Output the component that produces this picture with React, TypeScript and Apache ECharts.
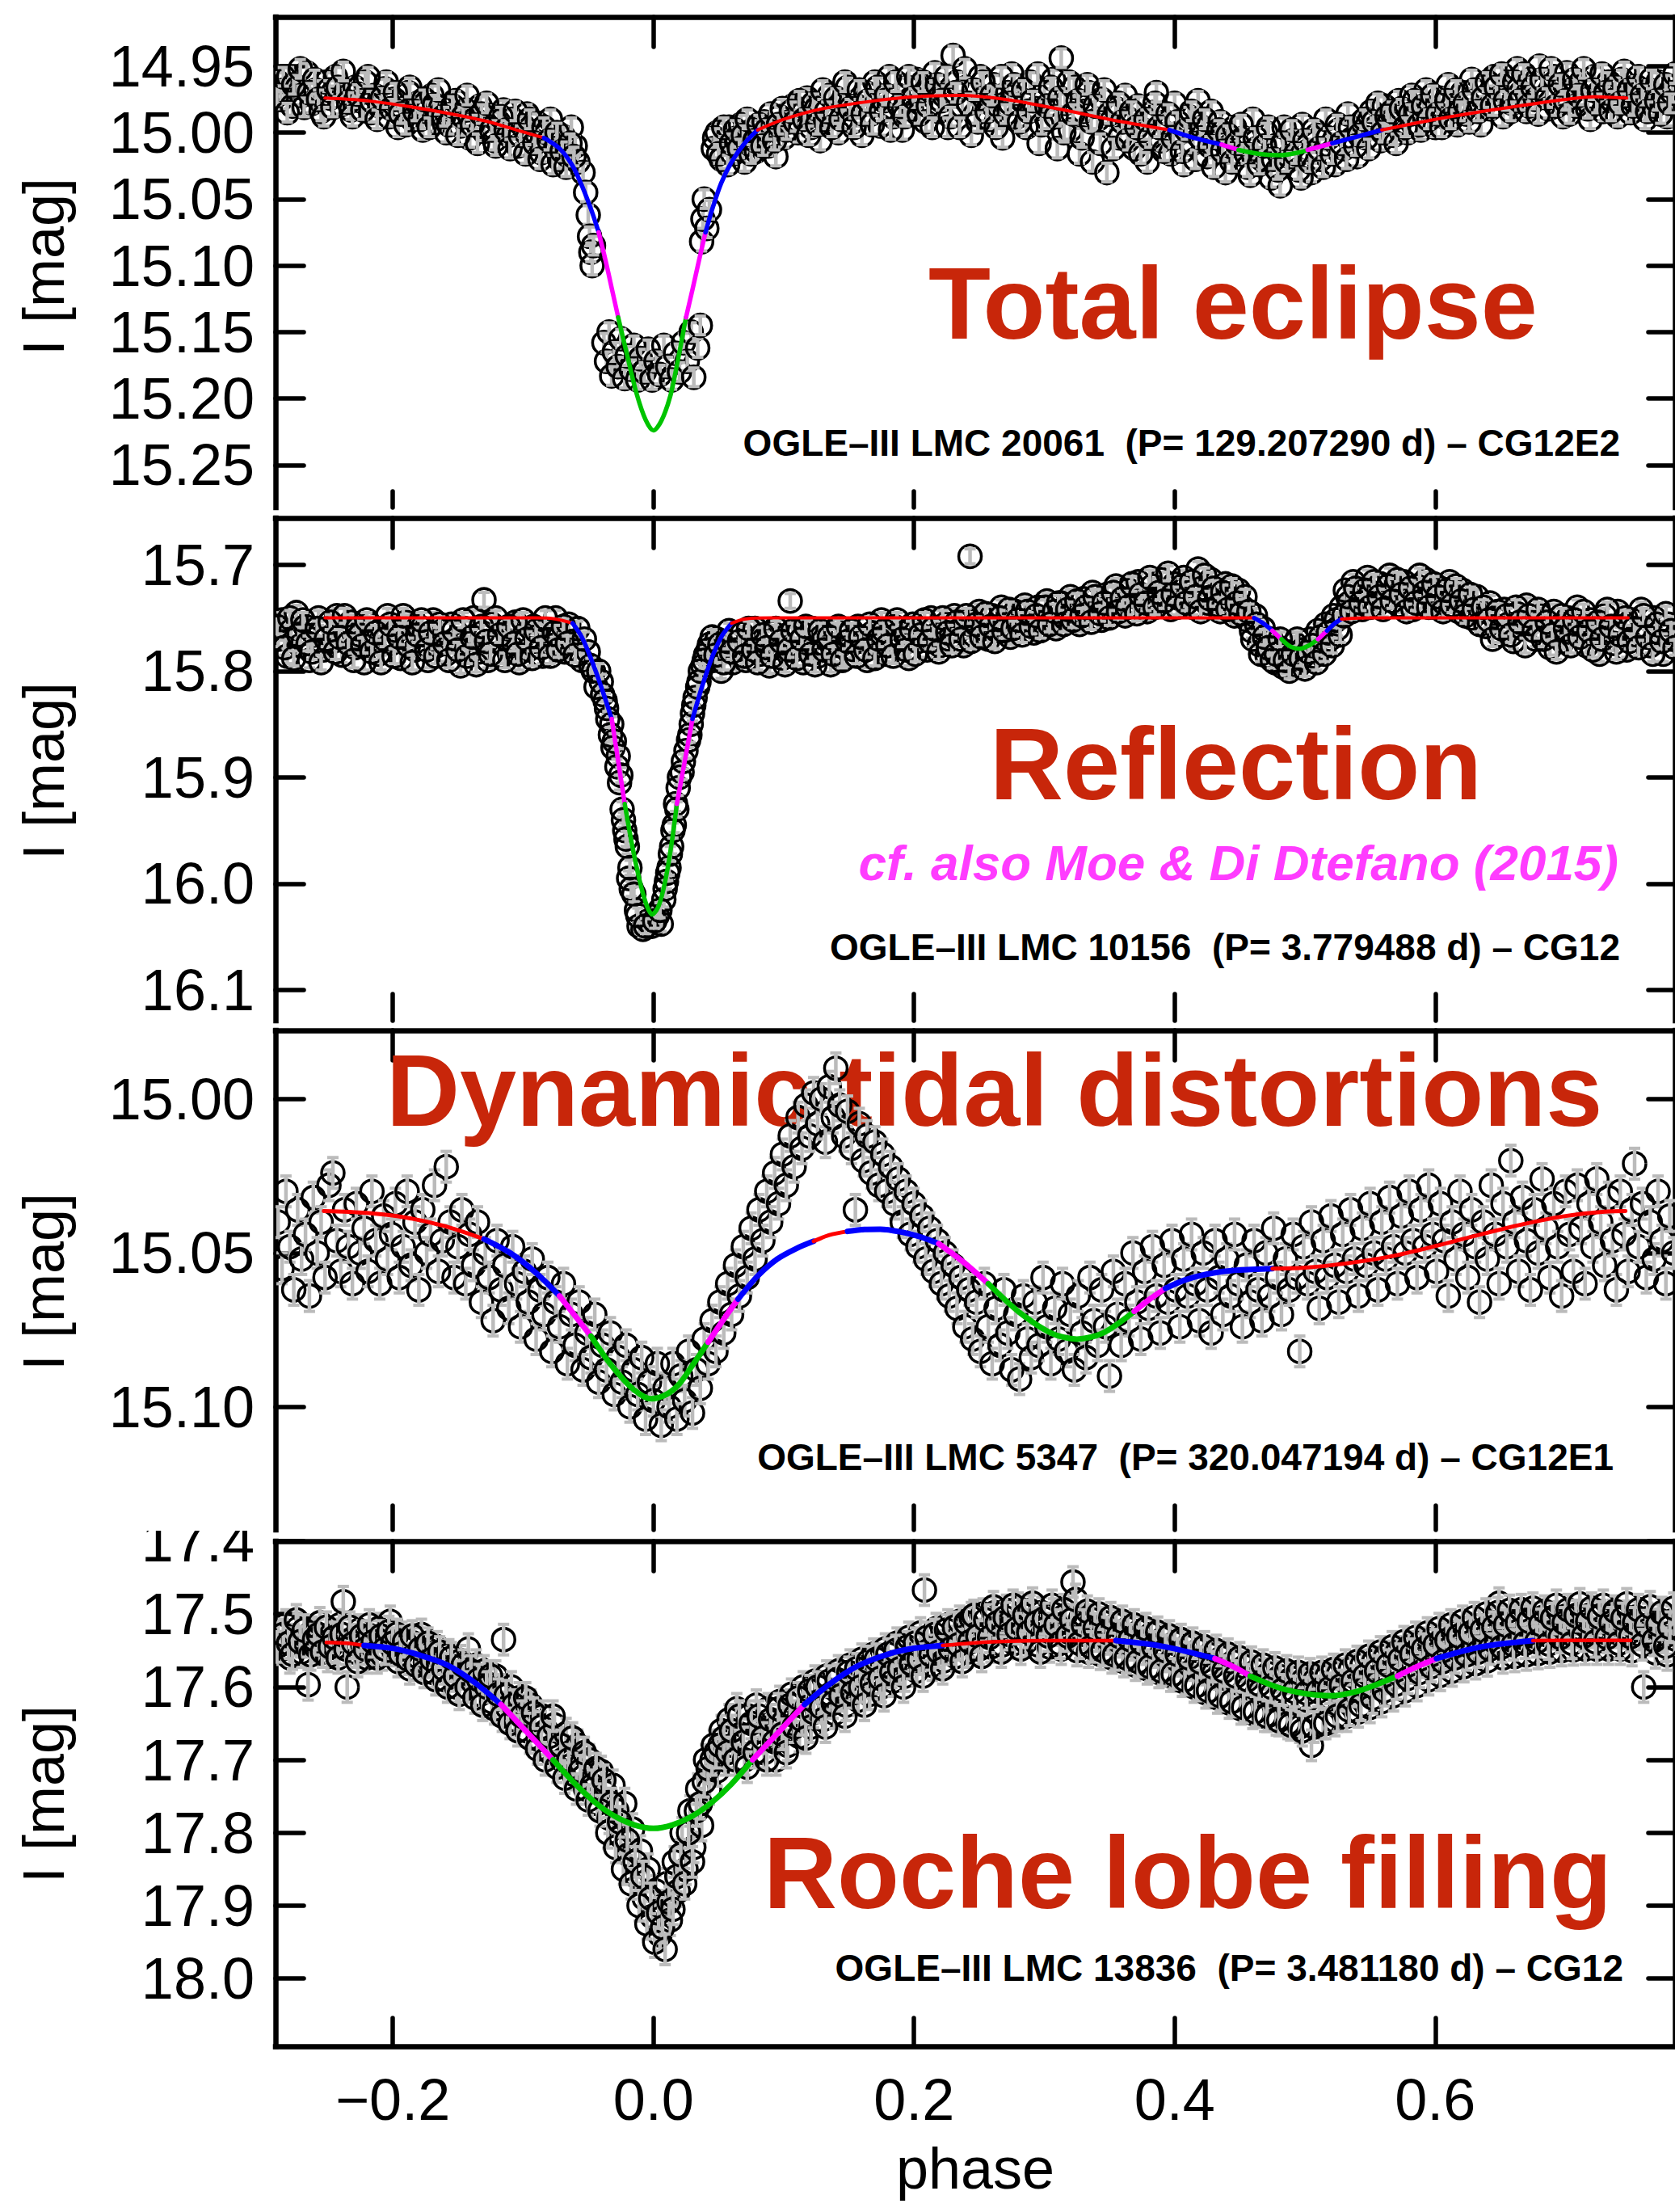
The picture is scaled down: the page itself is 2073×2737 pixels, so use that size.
import React, { useEffect, useRef } from 'react';
import * as echarts from 'echarts';

// ---------- axes ----------
const X_RANGE = [-0.29, 0.784];
const X_TICKS = [-0.2, 0.0, 0.2, 0.4, 0.6];
const Y1_RANGE = [14.913, 15.282];
const Y1_TICKS = [14.95, 15.0, 15.05, 15.1, 15.15, 15.2, 15.25];
const Y2_RANGE = [15.656, 16.129];
const Y2_TICKS = [15.7, 15.8, 15.9, 16.0, 16.1];
const Y3_RANGE = [14.9777, 15.14];
const Y3_TICKS = [15.0, 15.05, 15.1];
const Y4_RANGE = [17.4, 18.093];
const Y4_TICKS = [17.4, 17.5, 17.6, 17.7, 17.8, 17.9, 18.0];

// ---------- texts ----------
const TITLES = ['Total eclipse', 'Reflection', 'Dynamic tidal distortions', 'Roche lobe filling'];
const INFO = [
  'OGLE\u2013III LMC 20061  (P= 129.207290 d) \u2013 CG12E2',
  'OGLE\u2013III LMC 10156  (P= 3.779488 d) \u2013 CG12',
  'OGLE\u2013III LMC 5347  (P= 320.047194 d) \u2013 CG12E1',
  'OGLE\u2013III LMC 13836  (P= 3.481180 d) \u2013 CG12',
];
const NOTE = 'cf. also Moe & Di Dtefano (2015)';

// ---------- observations [phase, I mag] ----------
const P1_ERR = 0.007;
const P1_OBS = [
  [-0.288,14.962],[-0.286,14.975],[-0.283,14.968],[-0.280,14.958],[-0.277,14.980],[-0.273,14.966],[-0.270,14.972],[-0.266,14.955],
  [-0.262,14.978],[-0.259,14.968],[-0.255,14.984],[-0.251,14.962],[-0.248,14.974],[-0.244,14.958],[-0.240,14.979],[-0.236,14.970],
  [-0.232,14.983],[-0.229,14.966],[-0.225,14.976],[-0.221,14.962],[-0.217,14.985],[-0.214,14.972],[-0.210,14.980],[-0.206,14.967],
  [-0.203,14.988],[-0.199,14.975],[-0.196,14.996],[-0.192,14.982],[-0.188,14.970],[-0.185,14.990],[-0.181,14.978],[-0.177,14.998],
  [-0.174,14.984],[-0.170,14.972],[-0.166,14.992],[-0.163,14.981],[-0.159,15.000],[-0.155,14.986],[-0.152,14.976],[-0.148,14.995],
  [-0.144,14.983],[-0.141,15.004],[-0.137,14.990],[-0.133,14.980],[-0.130,14.999],[-0.126,14.987],[-0.122,15.006],[-0.119,14.992],
  [-0.115,14.983],[-0.111,15.002],[-0.108,14.990],[-0.104,15.010],[-0.100,14.995],[-0.097,14.986],[-0.093,15.005],[-0.089,14.993],
  [-0.086,15.015],[-0.082,15.000],[-0.079,14.990],[-0.075,15.012],[-0.072,15.020],[-0.069,15.003],[-0.066,15.017],[-0.063,14.996],
  [-0.060,15.010],[-0.058,15.022],[-0.054,15.030],[-0.052,15.045],[-0.050,15.062],[-0.049,15.078],[-0.048,15.090],[-0.047,15.100],
  [-0.046,15.085],
  [-0.038,15.158],[-0.036,15.172],[-0.034,15.150],[-0.032,15.183],[-0.030,15.165],[-0.027,15.176],[-0.025,15.155],[-0.022,15.185],
  [-0.020,15.168],[-0.017,15.178],[-0.015,15.160],[-0.012,15.186],[-0.010,15.170],[-0.007,15.180],[-0.004,15.163],[-0.001,15.186],
  [0.002,15.172],[0.005,15.182],[0.008,15.160],[0.011,15.176],[0.014,15.186],[0.017,15.166],[0.020,15.180],[0.023,15.158],
  [0.026,15.172],[0.029,15.150],[0.031,15.184],[0.034,15.162],[0.036,15.145],
  [0.037,15.082],[0.038,15.065],[0.039,15.050],[0.041,15.072],[0.043,15.058],
  [0.046,15.012],[0.049,15.000],[0.052,15.020],[0.055,15.006],[0.058,14.996],[0.061,15.016],[0.064,15.004],[0.067,14.994],
  [0.070,15.022],[0.073,15.008],[0.076,14.998],[0.079,15.014],[0.082,15.002],[0.085,14.992],[0.088,15.010],[0.091,14.996],
  [0.094,15.018],[0.097,14.988],[0.100,15.004],[0.104,14.992],[0.107,14.980],[0.111,15.000],[0.114,14.986],[0.118,14.974],
  [0.121,14.996],[0.125,14.982],[0.128,15.006],[0.132,14.990],[0.135,14.972],[0.139,14.986],[0.142,15.000],[0.146,14.978],
  [0.149,14.966],[0.153,14.992],[0.156,14.980],[0.160,15.002],[0.163,14.970],[0.167,14.986],[0.170,14.962],[0.174,14.995],
  [0.177,14.976],[0.181,14.958],[0.184,14.988],[0.188,14.972],[0.191,14.998],[0.195,14.966],[0.198,14.982],
  [0.202,14.960],[0.205,14.978],[0.209,14.992],[0.212,14.968],[0.216,14.955],[0.219,14.984],[0.223,14.972],[0.226,14.996],
  [0.230,14.942],[0.233,14.962],[0.237,14.980],[0.240,14.966],[0.244,15.002],[0.247,14.986],[0.251,14.958],[0.254,14.974],
  [0.258,14.990],[0.261,14.964],[0.265,14.980],[0.268,15.004],[0.272,14.970],[0.275,14.956],[0.279,14.988],[0.282,14.975],
  [0.286,14.996],[0.289,14.962],[0.293,14.982],[0.296,15.008],[0.300,14.970],[0.303,14.990],[0.307,14.960],[0.310,15.012],
  [0.313,14.944],[0.316,14.978],[0.320,14.998],[0.323,14.966],[0.327,15.016],[0.330,14.984],[0.334,14.970],[0.337,15.022],
  [0.341,14.990],[0.344,14.975],[0.348,15.030],[0.351,14.996],[0.355,14.982],
  [0.358,15.004],[0.362,14.972],[0.365,14.990],[0.369,15.012],[0.372,14.980],[0.376,14.998],[0.379,15.022],[0.383,14.985],
  [0.386,14.970],[0.390,15.006],[0.393,14.992],[0.397,15.016],[0.400,14.978],[0.404,15.000],[0.407,15.024],[0.411,14.988],
  [0.414,15.008],[0.418,14.976],[0.421,14.996],[0.425,15.018],[0.428,14.984],[0.432,15.004],[0.435,14.992],[0.439,15.030],
  [0.442,15.010],[0.446,14.996],[0.449,15.016],[0.453,15.004],[0.456,15.026],[0.460,14.990],[0.463,15.012],[0.467,15.020],
  [0.470,15.000],[0.474,15.034],[0.477,15.010],[0.481,15.040],[0.484,14.996],[0.488,15.018],[0.491,15.006],[0.495,15.028],
  [0.498,14.994],[0.502,15.014],[0.505,15.030],[0.509,15.002],[0.512,15.020],[0.516,14.990],[0.519,15.010],[0.523,15.024],
  [0.526,14.998],[0.530,15.012],[0.533,14.986],[0.537,15.004],[0.540,15.018],[0.544,14.992],
  [0.547,15.004],[0.551,14.984],[0.554,14.996],[0.558,15.006],[0.561,14.980],[0.565,14.992],[0.568,15.002],[0.572,14.976],
  [0.575,14.988],[0.579,15.000],[0.582,14.972],[0.586,14.984],[0.589,14.998],[0.593,14.968],[0.596,14.982],[0.600,14.996],
  [0.603,14.974],[0.607,14.988],[0.610,14.964],[0.614,14.980],[0.617,14.994],[0.621,14.970],[0.624,14.986],[0.628,14.960],
  [0.631,14.976],[0.635,14.994],[0.638,14.966],[0.642,14.982],
  [0.645,14.958],[0.649,14.974],[0.652,14.988],[0.656,14.962],[0.659,14.978],[0.663,14.952],[0.666,14.970],[0.670,14.984],
  [0.673,14.960],[0.677,14.975],[0.680,14.950],[0.684,14.966],[0.687,14.982],[0.691,14.958],[0.694,14.972],[0.698,14.988],
  [0.701,14.955],[0.705,14.968],[0.708,14.980],[0.712,14.962],[0.715,14.975],[0.719,14.990],[0.722,14.958],[0.726,14.970],
  [0.729,14.984],[0.733,14.962],[0.736,14.976],[0.740,14.988],[0.743,14.960],[0.747,14.972],[0.750,14.985],[0.754,14.965],
  [0.757,14.978],[0.761,14.990],[0.764,14.968],[0.768,14.980],[0.771,14.962],[0.775,14.975],[0.778,14.988],[0.782,14.970],
];
const P1_OBS_B = [
  [-0.289,14.972],[-0.284,14.958],[-0.281,14.985],[-0.276,14.964],[-0.271,14.952],[-0.268,14.981],[-0.264,14.970],[-0.260,14.960],
  [-0.257,14.975],[-0.253,14.988],[-0.249,14.968],[-0.246,14.981],[-0.242,14.966],[-0.238,14.954],[-0.234,14.977],[-0.231,14.988],
  [-0.227,14.971],[-0.223,14.983],[-0.219,14.958],[-0.216,14.976],[-0.212,14.990],[-0.208,14.974],[-0.205,14.962],[-0.201,14.982],
  [-0.198,14.970],[-0.194,14.986],[-0.190,14.994],[-0.187,14.966],[-0.183,14.984],[-0.179,14.990],[-0.176,14.975],[-0.172,14.996],
  [-0.168,14.979],[-0.165,14.968],[-0.161,14.988],[-0.157,14.994],[-0.154,14.980],[-0.150,15.002],[-0.146,14.988],[-0.143,14.972],
  [-0.139,14.994],[-0.135,15.008],[-0.132,14.986],[-0.128,14.978],[-0.124,14.998],[-0.121,15.010],[-0.117,14.988],[-0.113,14.998],
  [-0.110,15.012],[-0.106,14.984],[-0.102,15.002],[-0.098,15.016],[-0.095,14.990],[-0.091,15.008],[-0.087,15.020],[-0.084,14.996],
  [-0.080,15.006],[-0.077,15.024],[-0.074,15.000],[-0.070,15.014],[-0.067,15.026],[-0.064,15.008],[-0.061,15.018],
  [0.047,15.004],[0.050,15.016],[0.054,14.996],[0.057,15.024],[0.060,15.008],[0.063,14.998],[0.066,15.012],[0.069,15.002],
  [0.072,14.990],[0.075,15.016],[0.078,15.006],[0.081,14.994],[0.084,15.010],[0.087,14.998],[0.090,14.986],[0.093,15.006],
  [0.096,14.994],[0.099,14.982],[0.102,14.998],[0.106,14.984],[0.109,14.992],[0.112,14.976],[0.116,14.990],[0.119,15.002],
  [0.123,14.978],[0.126,14.994],[0.130,14.968],[0.133,14.984],[0.137,14.996],[0.140,14.974],[0.144,14.990],[0.147,14.962],
  [0.151,14.982],[0.154,14.996],[0.158,14.968],[0.161,14.986],[0.165,14.976],[0.168,14.994],[0.172,14.966],[0.175,14.984],
  [0.179,14.972],[0.182,14.998],[0.186,14.962],[0.189,14.980],[0.193,14.988],[0.196,14.958],
  [0.200,14.974],[0.204,14.986],[0.207,14.962],[0.211,14.980],[0.214,14.996],[0.218,14.964],[0.221,14.976],[0.225,14.958],
  [0.228,14.988],[0.232,14.970],[0.235,14.996],[0.239,14.952],[0.242,14.978],[0.246,14.968],[0.249,14.992],[0.253,14.962],
  [0.256,14.984],[0.260,14.972],[0.263,14.996],[0.267,14.958],[0.270,14.986],[0.274,14.978],[0.277,14.964],[0.281,14.992],
  [0.284,14.968],[0.288,14.984],[0.291,14.976],[0.295,14.956],[0.298,14.994],[0.302,14.980],[0.305,14.966],[0.309,14.988],
  [0.312,14.974],[0.315,15.000],[0.319,14.962],[0.322,14.986],[0.326,14.976],[0.329,15.004],[0.333,14.964],[0.336,14.992],
  [0.339,14.980],[0.343,15.008],[0.346,14.968],[0.350,14.986],[0.353,15.012],[0.357,14.978],
  [0.360,14.992],[0.364,15.006],[0.367,14.984],[0.371,14.996],[0.374,15.016],[0.378,14.990],[0.381,15.004],[0.385,14.978],
  [0.388,14.996],[0.392,15.014],[0.395,14.986],[0.399,15.004],[0.402,14.992],[0.406,15.014],[0.409,14.998],[0.413,14.984],
  [0.416,15.020],[0.420,15.004],[0.423,14.990],[0.427,15.010],[0.430,15.026],[0.434,14.998],[0.437,15.014],[0.441,15.002],
  [0.444,15.022],[0.448,15.008],[0.451,14.994],[0.455,15.016],[0.458,15.032],[0.462,15.004],[0.465,15.024],[0.469,15.010],
  [0.472,14.996],[0.476,15.020],[0.479,15.028],[0.483,15.008],[0.486,15.022],[0.490,14.998],[0.493,15.016],[0.497,15.034],
  [0.500,15.006],[0.504,15.022],[0.507,14.998],[0.511,15.012],[0.514,15.026],[0.518,15.004],[0.521,15.016],[0.525,14.994],
  [0.528,15.008],[0.532,15.020],[0.535,14.996],[0.539,15.010],[0.542,15.002],
  [0.546,14.990],[0.549,15.012],[0.553,14.992],[0.556,14.978],[0.560,15.000],[0.563,14.988],[0.567,14.984],[0.570,15.008],
  [0.574,14.982],[0.577,14.996],[0.581,14.986],[0.584,14.976],[0.588,14.994],[0.591,14.980],[0.595,14.990],[0.598,14.972],
  [0.602,14.986],[0.605,14.996],[0.609,14.976],[0.612,14.990],[0.616,14.968],[0.619,14.984],[0.623,14.978],[0.626,14.992],
  [0.630,14.968],[0.633,14.984],[0.637,14.974],[0.640,14.962],[0.644,14.980],[0.647,14.966],[0.651,14.956],[0.654,14.976],
  [0.658,14.984],[0.661,14.962],[0.665,14.976],[0.668,14.956],[0.672,14.980],[0.675,14.966],[0.679,14.986],[0.682,14.960],
  [0.686,14.974],[0.689,14.952],[0.693,14.980],[0.696,14.964],[0.700,14.976],[0.703,14.986],[0.707,14.960],[0.710,14.972],
  [0.714,14.952],[0.717,14.982],[0.721,14.968],[0.724,14.978],[0.728,14.956],[0.731,14.970],[0.735,14.984],[0.738,14.966],
  [0.742,14.978],[0.745,14.954],[0.749,14.968],[0.752,14.980],[0.756,14.958],[0.759,14.972],[0.763,14.984],[0.766,14.960],
  [0.770,14.976],[0.773,14.986],[0.777,14.964],[0.780,14.978],[0.784,14.956],
];

const P2_ERR = 0.007;
const P2_OBS = [
  [-0.288,15.770],[-0.285,15.752],[-0.281,15.786],[-0.278,15.762],[-0.274,15.745],[-0.271,15.776],[-0.267,15.758],[-0.264,15.790],
  [-0.260,15.766],[-0.257,15.750],[-0.253,15.780],[-0.250,15.760],[-0.246,15.772],[-0.243,15.748],[-0.239,15.785],[-0.236,15.764],
  [-0.232,15.754],[-0.229,15.778],[-0.225,15.766],[-0.222,15.792],[-0.218,15.756],[-0.215,15.770],[-0.211,15.784],[-0.208,15.760],
  [-0.204,15.748],[-0.201,15.774],[-0.197,15.762],[-0.194,15.788],[-0.190,15.754],[-0.187,15.770],[-0.183,15.780],[-0.180,15.758],
  [-0.176,15.766],[-0.173,15.790],[-0.169,15.752],[-0.166,15.776],[-0.162,15.762],[-0.159,15.784],[-0.155,15.756],[-0.152,15.770],
  [-0.148,15.795],[-0.145,15.760],[-0.141,15.774],[-0.138,15.750],[-0.134,15.782],[-0.131,15.764],[-0.130,15.733],[-0.127,15.790],
  [-0.124,15.756],[-0.120,15.772],[-0.117,15.786],[-0.113,15.760],[-0.110,15.776],[-0.106,15.754],[-0.103,15.792],[-0.099,15.766],
  [-0.096,15.780],[-0.092,15.758],[-0.089,15.772],[-0.085,15.786],[-0.082,15.762],[-0.078,15.776],[-0.075,15.750],[-0.072,15.768],
  [-0.068,15.782],[-0.065,15.756],
  [-0.062,15.772],[-0.058,15.760],[-0.055,15.790],[-0.050,15.782],[-0.046,15.800],[-0.044,15.815],[-0.040,15.810],[-0.037,15.828],
  [-0.035,15.845],[-0.033,15.860],[-0.031,15.872],[-0.028,15.890],[-0.026,15.905],[-0.024,15.930],[-0.022,15.950],[-0.020,15.965],
  [-0.019,15.995],[-0.017,16.005],[-0.013,16.025],[-0.011,16.040],[-0.008,16.043],[-0.004,16.035],[-0.001,16.040],[0.003,16.030],
  [0.006,16.038],[0.008,16.015],[0.010,15.998],[0.012,15.985],[0.014,15.965],[0.016,15.945],[0.017,15.925],[0.019,15.910],
  [0.022,15.895],[0.025,15.875],[0.028,15.860],[0.030,15.840],[0.032,15.825],[0.035,15.810],[0.038,15.795],[0.040,15.785],
  [0.043,15.775],[0.046,15.790],[0.049,15.770],[0.052,15.800],[0.055,15.780],[0.058,15.762],[0.061,15.792],
  [0.064,15.780],[0.068,15.765],[0.071,15.790],[0.075,15.772],[0.078,15.760],[0.082,15.784],[0.085,15.770],[0.089,15.795],
  [0.092,15.764],[0.096,15.778],[0.099,15.788],[0.103,15.766],[0.105,15.734],[0.108,15.780],[0.112,15.762],[0.115,15.792],
  [0.119,15.774],[0.122,15.760],[0.126,15.786],[0.129,15.768],[0.133,15.778],[0.136,15.794],[0.140,15.762],[0.143,15.776],
  [0.147,15.788],[0.150,15.766],[0.154,15.780],[0.157,15.758],[0.161,15.772],[0.164,15.790],[0.168,15.764],[0.171,15.776],
  [0.175,15.752],[0.178,15.784],[0.182,15.768],[0.185,15.758],[0.189,15.778],[0.192,15.764],[0.196,15.788],[0.199,15.756],
  [0.203,15.772],[0.206,15.760],[0.210,15.780],[0.213,15.750],[0.217,15.766],[0.220,15.776],[0.224,15.756],[0.227,15.770],
  [0.231,15.748],[0.234,15.762],[0.238,15.776],[0.241,15.752],[0.243,15.692],[0.246,15.766],[0.250,15.744],[0.253,15.760],
  [0.257,15.770],[0.260,15.748],[0.264,15.762],[0.267,15.740],[0.271,15.756],[0.274,15.768],[0.278,15.744],[0.281,15.758],
  [0.285,15.738],[0.288,15.752],[0.292,15.764],[0.295,15.740],[0.299,15.754],[0.302,15.734],[0.306,15.748],[0.309,15.760],
  [0.313,15.736],[0.316,15.750],[0.320,15.730],[0.323,15.744],[0.327,15.756],[0.330,15.732],[0.334,15.746],[0.337,15.726],
  [0.341,15.740],[0.344,15.752],[0.348,15.728],[0.351,15.742],[0.355,15.720],[0.358,15.736],[0.362,15.748],[0.365,15.724],
  [0.369,15.738],[0.372,15.716],[0.376,15.732],[0.379,15.744],[0.383,15.720],[0.386,15.734],[0.390,15.714],[0.393,15.728],
  [0.397,15.742],[0.400,15.718],[0.404,15.732],[0.407,15.712],[0.411,15.726],[0.414,15.740],[0.418,15.704],[0.421,15.722],
  [0.425,15.736],[0.428,15.714],[0.432,15.728],[0.435,15.744],[0.439,15.718],[0.442,15.732],[0.446,15.748],[0.449,15.724],
  [0.452,15.740],[0.456,15.752],
  [0.459,15.762],[0.462,15.748],[0.465,15.775],[0.468,15.760],[0.471,15.786],[0.474,15.770],[0.477,15.792],[0.480,15.778],
  [0.483,15.796],[0.486,15.782],[0.489,15.790],[0.492,15.774],[0.495,15.795],[0.498,15.780],[0.501,15.790],[0.504,15.770],
  [0.507,15.786],[0.510,15.762],[0.513,15.778],[0.516,15.756],[0.519,15.770],[0.522,15.748],[0.525,15.760],[0.528,15.740],
  [0.531,15.724],[0.534,15.736],[0.537,15.716],[0.541,15.730],[0.544,15.742],[0.548,15.712],[0.551,15.726],[0.555,15.738],
  [0.558,15.718],[0.562,15.732],[0.565,15.710],[0.569,15.724],[0.572,15.738],[0.576,15.716],[0.579,15.730],[0.583,15.742],
  [0.586,15.720],[0.590,15.734],[0.593,15.714],[0.597,15.728],[0.600,15.740],[0.604,15.722],[0.607,15.736],[0.611,15.716],
  [0.614,15.730],[0.618,15.744],[0.621,15.724],[0.625,15.738],[0.628,15.750],[0.632,15.730],
  [0.635,15.744],[0.639,15.758],[0.642,15.736],[0.646,15.750],[0.649,15.766],[0.653,15.742],[0.656,15.756],[0.660,15.772],
  [0.663,15.746],[0.667,15.760],[0.670,15.738],[0.674,15.754],[0.677,15.770],[0.681,15.748],[0.684,15.762],[0.688,15.778],
  [0.691,15.744],[0.695,15.758],[0.698,15.772],[0.702,15.750],[0.705,15.764],[0.709,15.740],[0.712,15.756],[0.716,15.776],
  [0.719,15.752],[0.723,15.766],[0.726,15.784],[0.730,15.748],[0.733,15.762],[0.737,15.774],[0.740,15.744],[0.744,15.758],
  [0.747,15.780],[0.751,15.752],[0.754,15.766],[0.758,15.742],[0.761,15.760],[0.765,15.776],[0.768,15.750],[0.772,15.764],
  [0.775,15.784],[0.779,15.756],[0.782,15.770],
];
const P2_OBS_B = [
  [-0.289,15.758],[-0.283,15.778],[-0.279,15.750],[-0.276,15.788],[-0.272,15.766],[-0.269,15.752],[-0.265,15.774],[-0.262,15.782],
  [-0.258,15.760],[-0.255,15.792],[-0.251,15.770],[-0.248,15.754],[-0.244,15.782],[-0.241,15.768],[-0.237,15.748],[-0.234,15.774],
  [-0.230,15.790],[-0.227,15.760],[-0.223,15.776],[-0.220,15.752],[-0.216,15.782],[-0.213,15.764],[-0.209,15.792],[-0.206,15.770],
  [-0.202,15.756],[-0.199,15.786],[-0.195,15.768],[-0.192,15.748],[-0.188,15.776],[-0.185,15.792],[-0.181,15.766],[-0.178,15.752],
  [-0.174,15.780],[-0.171,15.764],[-0.167,15.786],[-0.164,15.756],[-0.160,15.774],[-0.157,15.790],[-0.153,15.762],[-0.150,15.780],
  [-0.146,15.752],[-0.143,15.786],[-0.139,15.768],[-0.136,15.794],[-0.132,15.758],[-0.128,15.772],[-0.125,15.784],[-0.121,15.750],
  [-0.118,15.766],[-0.114,15.790],[-0.111,15.758],[-0.107,15.774],[-0.104,15.784],[-0.100,15.752],[-0.097,15.770],[-0.093,15.788],
  [-0.090,15.762],[-0.086,15.778],[-0.083,15.750],[-0.079,15.786],[-0.076,15.764],[-0.073,15.780],[-0.069,15.758],[-0.066,15.774],
  [-0.060,15.785],[-0.053,15.770],[-0.048,15.795],[-0.042,15.800],[-0.039,15.822],[-0.036,15.835],[-0.032,15.850],[-0.030,15.866],
  [-0.027,15.880],[-0.025,15.898],[-0.023,15.940],[-0.021,15.958],[-0.018,15.985],[-0.015,16.010],[-0.012,16.030],[-0.006,16.040],
  [0.001,16.035],[0.005,16.025],[0.009,16.005],[0.011,15.990],[0.013,15.972],[0.015,15.950],[0.018,15.930],[0.020,15.900],
  [0.023,15.885],[0.027,15.865],[0.029,15.850],[0.031,15.832],[0.034,15.815],[0.036,15.800],[0.039,15.790],[0.042,15.780],
  [0.045,15.768],[0.048,15.785],[0.051,15.775],[0.054,15.792],[0.057,15.772],[0.060,15.782],
  [0.066,15.772],[0.070,15.786],[0.073,15.760],[0.077,15.780],[0.080,15.792],[0.084,15.766],[0.087,15.778],[0.091,15.786],
  [0.094,15.760],[0.098,15.772],[0.101,15.794],[0.104,15.780],[0.107,15.762],[0.110,15.788],[0.114,15.770],[0.117,15.758],
  [0.121,15.784],[0.124,15.794],[0.128,15.762],[0.131,15.780],[0.135,15.768],[0.138,15.784],[0.142,15.758],[0.145,15.790],
  [0.149,15.772],[0.152,15.762],[0.156,15.786],[0.159,15.768],[0.163,15.780],[0.166,15.756],[0.170,15.788],[0.173,15.770],
  [0.177,15.762],[0.180,15.776],[0.184,15.786],[0.187,15.752],[0.191,15.770],[0.194,15.780],[0.198,15.760],[0.201,15.784],
  [0.205,15.766],[0.208,15.752],[0.212,15.772],[0.215,15.760],[0.219,15.782],[0.222,15.750],[0.226,15.764],[0.229,15.776],
  [0.233,15.754],[0.236,15.770],[0.240,15.748],[0.244,15.772],
  [0.248,15.756],[0.252,15.768],[0.255,15.746],[0.259,15.758],[0.262,15.772],[0.266,15.750],[0.269,15.762],[0.273,15.742],
  [0.276,15.760],[0.280,15.752],[0.283,15.766],[0.287,15.744],[0.290,15.758],[0.294,15.748],[0.297,15.762],[0.301,15.740],
  [0.304,15.756],[0.308,15.744],[0.311,15.736],[0.315,15.756],[0.318,15.742],[0.322,15.752],[0.325,15.734],[0.329,15.748],
  [0.332,15.740],[0.336,15.754],[0.339,15.730],[0.343,15.746],[0.346,15.736],[0.350,15.750],[0.353,15.726],[0.357,15.744],
  [0.360,15.732],[0.364,15.740],[0.367,15.718],[0.371,15.746],[0.374,15.728],[0.378,15.736],[0.381,15.712],[0.385,15.740],
  [0.388,15.726],[0.392,15.734],[0.395,15.708],[0.399,15.728],[0.402,15.740],[0.406,15.720],[0.409,15.736],[0.413,15.716],
  [0.416,15.730],[0.420,15.744],[0.423,15.710],[0.427,15.732],[0.430,15.722],[0.434,15.738],[0.437,15.726],[0.441,15.742],
  [0.444,15.720],[0.448,15.736],[0.451,15.746],[0.454,15.730],[0.457,15.744],
  [0.460,15.770],[0.463,15.756],[0.466,15.784],[0.469,15.768],[0.472,15.778],[0.475,15.790],[0.478,15.784],[0.481,15.770],
  [0.485,15.790],[0.488,15.800],[0.491,15.784],[0.494,15.770],[0.497,15.788],[0.500,15.798],[0.503,15.782],[0.506,15.776],
  [0.509,15.792],[0.512,15.768],[0.515,15.784],[0.518,15.764],[0.521,15.776],[0.524,15.752],[0.527,15.766],[0.530,15.748],
  [0.533,15.730],[0.536,15.744],[0.539,15.722],[0.543,15.736],[0.546,15.724],[0.550,15.740],[0.553,15.716],[0.557,15.730],
  [0.560,15.742],[0.564,15.720],[0.567,15.734],[0.571,15.714],[0.574,15.728],[0.578,15.744],[0.581,15.722],[0.585,15.736],
  [0.588,15.710],[0.592,15.726],[0.595,15.740],[0.599,15.718],[0.602,15.730],[0.606,15.744],[0.609,15.724],[0.613,15.738],
  [0.616,15.720],[0.620,15.734],[0.623,15.748],[0.627,15.728],[0.630,15.742],
  [0.634,15.756],[0.637,15.740],[0.641,15.752],[0.644,15.770],[0.648,15.744],[0.651,15.760],[0.655,15.748],[0.658,15.766],
  [0.662,15.740],[0.665,15.754],[0.669,15.776],[0.672,15.748],[0.676,15.762],[0.679,15.742],[0.683,15.770],[0.686,15.754],
  [0.690,15.766],[0.693,15.782],[0.697,15.748],[0.700,15.760],[0.704,15.776],[0.707,15.752],[0.711,15.768],[0.714,15.744],
  [0.718,15.762],[0.721,15.780],[0.725,15.754],[0.728,15.770],[0.732,15.742],[0.735,15.758],[0.739,15.782],[0.742,15.766],
  [0.746,15.750],[0.749,15.772],[0.753,15.760],[0.756,15.778],[0.760,15.748],[0.763,15.768],[0.767,15.784],[0.770,15.756],
  [0.774,15.772],[0.777,15.746],[0.781,15.762],[0.784,15.778],
];

const P3_ERR = 0.005;
const P3_OBS = [
  [-0.288,15.040],[-0.285,15.055],[-0.282,15.030],[-0.279,15.048],[-0.276,15.062],[-0.273,15.036],[-0.270,15.052],[-0.267,15.044],
  [-0.264,15.064],[-0.261,15.032],[-0.258,15.050],[-0.255,15.040],[-0.252,15.058],[-0.249,15.028],[-0.246,15.024],[-0.243,15.046],
  [-0.240,15.056],[-0.237,15.036],[-0.234,15.048],[-0.231,15.060],[-0.228,15.034],[-0.225,15.050],[-0.222,15.042],[-0.219,15.056],
  [-0.216,15.030],[-0.213,15.046],[-0.210,15.060],[-0.207,15.038],[-0.204,15.052],[-0.201,15.044],[-0.198,15.034],[-0.195,15.058],
  [-0.192,15.048],[-0.189,15.030],[-0.186,15.054],[-0.183,15.040],[-0.180,15.062],[-0.177,15.036],[-0.174,15.050],[-0.171,15.044],
  [-0.168,15.028],[-0.165,15.056],[-0.162,15.046],[-0.159,15.022],[-0.156,15.040],[-0.153,15.058],[-0.150,15.048],[-0.147,15.036],
  [-0.144,15.060],[-0.141,15.044],[-0.138,15.054],[-0.135,15.040],[-0.132,15.066],[-0.129,15.050],[-0.126,15.058],[-0.123,15.072],
  [-0.120,15.046],[-0.117,15.062],[-0.114,15.054],[-0.111,15.068],[-0.108,15.048],[-0.105,15.060],[-0.102,15.074],[-0.099,15.056],
  [-0.096,15.066],[-0.093,15.052],[-0.090,15.078],[-0.087,15.062],[-0.084,15.070],[-0.081,15.058],[-0.078,15.082],[-0.075,15.066],
  [-0.072,15.074],[-0.069,15.060],[-0.066,15.086],[-0.063,15.070],[-0.060,15.080],[-0.057,15.066],[-0.054,15.088],[-0.051,15.076],
  [-0.048,15.084],[-0.045,15.070],[-0.042,15.092],[-0.039,15.080],[-0.036,15.088],[-0.033,15.076],[-0.030,15.096],[-0.027,15.084],
  [-0.024,15.092],[-0.021,15.080],[-0.018,15.100],[-0.015,15.088],[-0.012,15.096],[-0.009,15.084],[-0.006,15.104],[-0.003,15.092],
  [0.000,15.098],[0.003,15.086],[0.006,15.106],[0.009,15.094],[0.012,15.100],[0.015,15.086],[0.018,15.104],[0.021,15.090],
  [0.024,15.098],[0.027,15.082],[0.030,15.102],[0.033,15.088],[0.036,15.094],[0.039,15.078],[0.042,15.086],[0.045,15.072],
  [0.048,15.082],[0.051,15.066],[0.054,15.076],[0.057,15.060],[0.060,15.070],[0.063,15.054],[0.066,15.064],[0.069,15.048],
  [0.072,15.058],[0.075,15.042],[0.078,15.052],[0.081,15.036],[0.084,15.046],[0.087,15.030],[0.090,15.040],[0.093,15.024],
  [0.096,15.034],[0.099,15.018],[0.102,15.028],[0.105,15.012],[0.108,15.022],[0.111,15.006],[0.114,15.016],[0.117,15.002],
  [0.120,15.012],[0.123,14.998],[0.126,15.008],[0.129,15.000],[0.132,15.014],[0.135,14.996],[0.138,15.006],[0.140,14.990],
  [0.143,15.002],[0.146,15.012],[0.149,15.004],[0.152,15.016],[0.155,15.036],[0.158,15.008],[0.161,15.020],[0.164,15.012],
  [0.167,15.024],[0.170,15.014],[0.173,15.028],[0.176,15.018],[0.179,15.030],[0.182,15.022],[0.185,15.034],[0.188,15.026],
  [0.191,15.040],[0.194,15.030],[0.197,15.044],[0.200,15.034],[0.203,15.048],[0.206,15.038],[0.209,15.052],[0.212,15.042],
  [0.215,15.056],[0.218,15.046],[0.221,15.060],[0.224,15.050],[0.227,15.064],[0.230,15.054],[0.233,15.068],[0.236,15.058],
  [0.239,15.074],[0.242,15.062],[0.245,15.078],[0.248,15.066],[0.251,15.082],[0.254,15.060],[0.257,15.074],[0.260,15.086],
  [0.263,15.068],[0.266,15.080],[0.269,15.062],[0.272,15.076],[0.275,15.088],[0.278,15.070],[0.281,15.091],[0.284,15.064],
  [0.287,15.078],[0.290,15.084],[0.293,15.066],[0.296,15.080],[0.299,15.058],[0.302,15.074],[0.305,15.086],[0.308,15.068],
  [0.311,15.078],[0.314,15.060],[0.317,15.082],[0.320,15.070],[0.323,15.088],[0.326,15.064],[0.329,15.076],[0.332,15.084],
  [0.335,15.058],[0.338,15.072],[0.341,15.080],[0.344,15.062],[0.347,15.074],[0.350,15.090],[0.353,15.056],[0.356,15.070],
  [0.359,15.080],[0.362,15.060],[0.365,15.072],[0.368,15.050],[0.371,15.066],[0.374,15.078],[0.377,15.056],[0.380,15.068],
  [0.383,15.048],[0.386,15.064],[0.389,15.076],[0.392,15.054],[0.395,15.066],[0.398,15.046],[0.401,15.062],[0.404,15.074],
  [0.407,15.052],[0.410,15.064],[0.413,15.044],[0.416,15.060],[0.419,15.072],[0.422,15.050],[0.425,15.062],[0.428,15.076],
  [0.431,15.046],[0.434,15.058],[0.437,15.070],[0.440,15.052],[0.443,15.064],[0.446,15.044],[0.449,15.060],[0.452,15.074],
  [0.455,15.054],[0.458,15.066],[0.461,15.046],[0.464,15.062],[0.467,15.072],[0.470,15.050],[0.473,15.064],[0.476,15.042],
  [0.479,15.058],[0.482,15.070],[0.485,15.052],[0.488,15.062],[0.491,15.044],[0.494,15.058],[0.496,15.082],[0.499,15.048],
  [0.502,15.060],[0.505,15.040],[0.508,15.056],[0.511,15.068],[0.514,15.046],[0.517,15.058],[0.520,15.038],[0.523,15.054],
  [0.526,15.066],[0.529,15.044],[0.532,15.056],[0.535,15.036],[0.538,15.052],[0.541,15.064],[0.544,15.042],[0.547,15.054],
  [0.550,15.034],[0.553,15.050],[0.556,15.062],[0.559,15.040],[0.562,15.052],[0.565,15.032],[0.568,15.048],[0.571,15.060],
  [0.574,15.038],[0.577,15.050],[0.580,15.030],[0.583,15.046],[0.586,15.058],[0.589,15.036],[0.592,15.048],[0.595,15.028],
  [0.598,15.044],[0.601,15.056],[0.604,15.034],[0.607,15.046],[0.610,15.064],[0.613,15.040],[0.616,15.052],[0.619,15.030],
  [0.622,15.044],[0.625,15.058],[0.628,15.036],[0.631,15.048],[0.634,15.066],[0.637,15.040],[0.640,15.052],[0.643,15.028],
  [0.646,15.044],[0.649,15.060],[0.652,15.034],[0.655,15.048],[0.658,15.020],[0.661,15.040],[0.664,15.056],[0.667,15.032],
  [0.670,15.046],[0.673,15.062],[0.676,15.036],[0.679,15.050],[0.682,15.026],[0.685,15.042],[0.688,15.058],[0.691,15.034],
  [0.694,15.048],[0.697,15.064],[0.700,15.030],[0.703,15.044],[0.706,15.056],[0.709,15.028],[0.712,15.042],[0.715,15.060],
  [0.718,15.034],[0.721,15.048],[0.724,15.026],[0.727,15.040],[0.730,15.054],[0.733,15.032],[0.736,15.046],[0.739,15.062],
  [0.742,15.030],[0.745,15.044],[0.748,15.056],[0.751,15.036],[0.753,15.021],[0.756,15.048],[0.759,15.034],[0.762,15.058],
  [0.765,15.040],[0.768,15.052],[0.771,15.030],[0.774,15.046],[0.777,15.060],[0.780,15.038],[0.783,15.050],
];

const P4_ERR = 0.021;
const P4_OBS = [
  [-0.288,17.530],[-0.285,17.548],[-0.282,17.515],[-0.279,17.560],[-0.276,17.535],[-0.273,17.520],[-0.270,17.552],[-0.267,17.538],
  [-0.265,17.597],[-0.262,17.525],[-0.259,17.545],[-0.256,17.512],[-0.253,17.540],[-0.250,17.558],[-0.247,17.528],[-0.244,17.546],
  [-0.241,17.515],[-0.238,17.483],[-0.235,17.600],[-0.232,17.535],[-0.229,17.552],[-0.226,17.522],[-0.223,17.542],[-0.220,17.560],
  [-0.217,17.530],[-0.214,17.548],[-0.211,17.520],[-0.208,17.556],[-0.205,17.538],[-0.202,17.510],[-0.199,17.550],[-0.196,17.565],
  [-0.193,17.532],[-0.190,17.548],[-0.187,17.575],[-0.184,17.540],[-0.181,17.558],[-0.178,17.528],[-0.175,17.566],[-0.172,17.550],
  [-0.169,17.580],[-0.166,17.545],[-0.163,17.562],[-0.160,17.590],[-0.157,17.556],[-0.154,17.572],[-0.151,17.600],[-0.148,17.564],
  [-0.145,17.582],[-0.142,17.548],[-0.139,17.592],[-0.136,17.570],[-0.133,17.610],[-0.130,17.578],[-0.127,17.596],[-0.124,17.620],
  [-0.121,17.585],[-0.118,17.604],[-0.115,17.535],[-0.112,17.628],[-0.109,17.600],[-0.106,17.645],[-0.103,17.615],[-0.100,17.632],
  [-0.097,17.660],[-0.094,17.625],[-0.091,17.648],[-0.088,17.672],[-0.085,17.640],[-0.082,17.660],[-0.079,17.690],[-0.076,17.652],
  [-0.073,17.676],[-0.070,17.700],[-0.067,17.664],[-0.064,17.690],[-0.061,17.720],[-0.058,17.680],[-0.055,17.706],[-0.052,17.740],
  [-0.049,17.700],[-0.046,17.726],[-0.043,17.760],[-0.040,17.716],[-0.037,17.745],[-0.034,17.780],[-0.031,17.735],[-0.028,17.770],
  [-0.025,17.805],[-0.022,17.760],[-0.019,17.830],[-0.016,17.795],[-0.013,17.860],[-0.010,17.825],[-0.007,17.890],[-0.004,17.850],
  [-0.001,17.915],[0.002,17.880],[0.005,17.940],[0.008,17.900],[0.010,17.870],[0.013,17.920],[0.016,17.840],[0.019,17.880],
  [0.022,17.800],[0.025,17.850],[0.028,17.770],[0.031,17.820],[0.034,17.740],[0.037,17.790],[0.040,17.700],[0.043,17.740],
  [0.046,17.680],[0.049,17.715],[0.052,17.660],[0.055,17.700],[0.058,17.645],[0.061,17.680],[0.064,17.630],[0.067,17.665],
  [0.070,17.700],[0.073,17.640],[0.076,17.672],[0.079,17.625],[0.082,17.655],[0.085,17.690],[0.088,17.630],[0.091,17.660],
  [0.094,17.700],[0.097,17.620],[0.100,17.648],[0.103,17.680],[0.106,17.610],[0.109,17.640],[0.112,17.668],[0.115,17.600],
  [0.118,17.628],[0.121,17.655],[0.124,17.592],[0.127,17.620],[0.130,17.645],[0.133,17.585],[0.136,17.610],[0.139,17.636],
  [0.142,17.578],[0.145,17.604],[0.148,17.625],[0.151,17.570],[0.154,17.596],[0.157,17.618],[0.160,17.562],[0.163,17.588],
  [0.166,17.610],[0.169,17.555],[0.172,17.580],[0.175,17.600],[0.178,17.548],[0.181,17.572],[0.184,17.592],[0.187,17.540],
  [0.190,17.564],[0.193,17.585],[0.196,17.532],[0.199,17.556],[0.202,17.578],[0.205,17.526],[0.208,17.467],[0.211,17.550],
  [0.214,17.570],[0.217,17.520],[0.220,17.544],[0.223,17.564],[0.226,17.515],[0.229,17.538],[0.232,17.558],[0.235,17.510],
  [0.238,17.532],[0.241,17.552],[0.244,17.505],[0.247,17.528],[0.250,17.548],[0.253,17.500],[0.256,17.524],[0.259,17.545],
  [0.262,17.498],[0.265,17.520],[0.268,17.542],[0.271,17.495],[0.274,17.518],[0.277,17.540],[0.280,17.492],[0.283,17.515],
  [0.286,17.538],[0.289,17.495],[0.292,17.518],[0.295,17.542],[0.298,17.498],[0.301,17.520],[0.304,17.545],[0.307,17.500],
  [0.310,17.522],[0.313,17.548],[0.316,17.502],[0.319,17.525],[0.322,17.456],[0.325,17.550],[0.328,17.506],[0.331,17.528],
  [0.334,17.552],[0.337,17.508],[0.340,17.530],[0.343,17.555],[0.346,17.512],[0.349,17.534],[0.352,17.560],[0.355,17.515],
  [0.358,17.538],[0.361,17.565],[0.364,17.520],[0.367,17.542],[0.370,17.570],[0.373,17.524],[0.376,17.548],[0.379,17.575],
  [0.382,17.528],[0.385,17.552],[0.388,17.580],[0.391,17.534],[0.394,17.558],[0.397,17.585],[0.400,17.540],[0.403,17.564],
  [0.406,17.592],[0.409,17.545],[0.412,17.570],[0.415,17.600],[0.418,17.550],[0.421,17.576],[0.424,17.608],[0.427,17.556],
  [0.430,17.582],[0.433,17.615],[0.436,17.560],[0.439,17.588],[0.442,17.622],[0.445,17.566],[0.448,17.594],[0.451,17.630],
  [0.454,17.572],[0.457,17.600],[0.460,17.636],[0.463,17.578],[0.466,17.606],[0.469,17.640],[0.472,17.582],[0.475,17.610],
  [0.478,17.645],[0.481,17.586],[0.484,17.614],[0.487,17.650],[0.490,17.588],[0.493,17.616],[0.496,17.655],[0.499,17.590],
  [0.502,17.618],[0.505,17.680],[0.508,17.590],[0.511,17.620],[0.514,17.650],[0.517,17.586],[0.520,17.616],[0.523,17.646],
  [0.526,17.582],[0.529,17.612],[0.532,17.640],[0.535,17.576],[0.538,17.606],[0.541,17.634],[0.544,17.570],[0.547,17.600],
  [0.550,17.628],[0.553,17.565],[0.556,17.594],[0.559,17.620],[0.562,17.558],[0.565,17.588],[0.568,17.612],[0.571,17.552],
  [0.574,17.580],[0.577,17.605],[0.580,17.545],[0.583,17.574],[0.586,17.598],[0.589,17.540],[0.592,17.566],[0.595,17.590],
  [0.598,17.535],[0.601,17.560],[0.604,17.584],[0.607,17.530],[0.610,17.555],[0.613,17.578],[0.616,17.525],[0.619,17.550],
  [0.622,17.572],[0.625,17.520],[0.628,17.546],[0.631,17.568],[0.634,17.516],[0.637,17.542],[0.640,17.564],[0.643,17.512],
  [0.646,17.538],[0.649,17.485],[0.652,17.560],[0.655,17.510],[0.658,17.535],[0.661,17.558],[0.664,17.508],[0.667,17.532],
  [0.670,17.556],[0.673,17.506],[0.676,17.530],[0.679,17.554],[0.682,17.505],[0.685,17.528],[0.688,17.552],[0.691,17.504],
  [0.694,17.527],[0.697,17.550],[0.700,17.503],[0.703,17.526],[0.706,17.549],[0.709,17.502],[0.712,17.525],[0.715,17.548],
  [0.718,17.502],[0.721,17.525],[0.724,17.548],[0.727,17.502],[0.730,17.525],[0.733,17.548],[0.736,17.502],[0.739,17.525],
  [0.742,17.548],[0.745,17.503],[0.748,17.526],[0.751,17.550],[0.754,17.504],[0.757,17.528],[0.760,17.600],[0.763,17.506],
  [0.766,17.530],[0.769,17.553],[0.772,17.508],[0.775,17.532],[0.778,17.556],[0.781,17.510],[0.784,17.534],
];
const P4_OBS_B = [
  [-0.289,17.545],[-0.284,17.528],[-0.280,17.540],[-0.277,17.555],[-0.274,17.508],[-0.271,17.538],[-0.268,17.522],[-0.263,17.556],
  [-0.260,17.535],[-0.257,17.528],[-0.254,17.552],[-0.251,17.518],[-0.248,17.545],[-0.245,17.532],[-0.242,17.560],[-0.239,17.528],
  [-0.236,17.548],[-0.233,17.518],[-0.230,17.540],[-0.227,17.565],[-0.224,17.530],[-0.221,17.548],[-0.218,17.515],[-0.215,17.538],
  [-0.212,17.560],[-0.209,17.530],[-0.206,17.548],[-0.203,17.524],
  [-0.200,17.540],[-0.197,17.528],[-0.194,17.555],[-0.191,17.538],[-0.188,17.562],[-0.185,17.530],[-0.182,17.570],[-0.179,17.548],
  [-0.176,17.580],[-0.173,17.540],[-0.170,17.562],[-0.167,17.590],[-0.164,17.552],[-0.161,17.575],[-0.158,17.600],[-0.155,17.560],
  [-0.152,17.585],[-0.149,17.610],[-0.146,17.570],[-0.143,17.600],[-0.140,17.578],[-0.137,17.615],[-0.134,17.590],[-0.131,17.625],
  [-0.128,17.600],[-0.125,17.585],[-0.122,17.630],[-0.119,17.610],
  [-0.116,17.640],[-0.113,17.612],[-0.110,17.650],[-0.107,17.625],[-0.104,17.660],[-0.101,17.640],[-0.098,17.615],[-0.095,17.670],
  [-0.092,17.636],[-0.089,17.685],[-0.086,17.655],[-0.083,17.700],[-0.080,17.668],[-0.077,17.640],[-0.074,17.710],[-0.071,17.680],
  [-0.068,17.725],[-0.065,17.700],[-0.062,17.670],[-0.059,17.740],[-0.056,17.715],[-0.053,17.690],[-0.050,17.755],[-0.047,17.735],
  [-0.044,17.712],[-0.041,17.770],[-0.038,17.728],
  [-0.035,17.800],[-0.032,17.760],[-0.029,17.820],[-0.026,17.785],[-0.023,17.850],[-0.020,17.810],[-0.017,17.870],[-0.014,17.840],
  [-0.011,17.900],[-0.008,17.860],[-0.005,17.925],[-0.002,17.890],[0.001,17.950],[0.004,17.910],[0.007,17.930],[0.009,17.960],
  [0.012,17.895],[0.015,17.905],[0.018,17.860],[0.021,17.830],[0.024,17.870],[0.027,17.800],[0.030,17.840],[0.033,17.770],
  [0.036,17.760],[0.039,17.730],[0.042,17.712],[0.045,17.700],[0.048,17.690],[0.051,17.680],[0.054,17.670],
  [0.057,17.690],[0.060,17.660],[0.063,17.700],[0.066,17.640],[0.069,17.676],[0.072,17.710],[0.075,17.650],[0.078,17.690],
  [0.081,17.640],[0.084,17.670],[0.087,17.700],[0.090,17.645],[0.093,17.675],[0.096,17.630],[0.099,17.665],[0.102,17.690],
  [0.105,17.625],[0.108,17.655],[0.111,17.615],[0.114,17.645],[0.117,17.670],[0.120,17.605],[0.123,17.635],[0.126,17.600],
  [0.129,17.628],[0.132,17.655],[0.135,17.592],[0.138,17.622],[0.141,17.590],[0.144,17.612],[0.147,17.640],[0.150,17.580],
  [0.153,17.608],[0.156,17.575],[0.159,17.600],[0.162,17.625],[0.165,17.565],[0.168,17.595],[0.171,17.562],[0.174,17.588],
  [0.177,17.612],[0.180,17.555],[0.183,17.580],[0.186,17.550],[0.189,17.575],[0.192,17.600],[0.195,17.545],[0.198,17.568],
  [0.201,17.540],[0.204,17.562],[0.207,17.585],[0.210,17.532],[0.213,17.556],[0.216,17.528],[0.219,17.552],
  [0.222,17.575],[0.225,17.522],[0.228,17.548],[0.231,17.518],[0.234,17.542],[0.237,17.565],[0.240,17.512],[0.243,17.538],
  [0.246,17.502],[0.249,17.530],[0.252,17.558],[0.255,17.508],[0.258,17.532],[0.261,17.490],[0.264,17.512],[0.267,17.552],
  [0.270,17.505],[0.273,17.528],[0.276,17.488],[0.279,17.520],[0.282,17.548],[0.285,17.502],[0.288,17.525],[0.291,17.485],
  [0.294,17.512],[0.297,17.552],[0.300,17.506],[0.303,17.530],[0.306,17.488],[0.309,17.515],[0.312,17.540],[0.315,17.494],
  [0.318,17.530],[0.321,17.508],[0.324,17.480],[0.327,17.540],[0.330,17.515],[0.333,17.496],[0.336,17.545],[0.339,17.520],
  [0.342,17.500],[0.345,17.550],[0.348,17.525],[0.351,17.505],[0.354,17.556],[0.357,17.530],[0.360,17.510],[0.363,17.560],
  [0.366,17.535],[0.369,17.515],[0.372,17.565],[0.375,17.540],[0.378,17.520],[0.381,17.572],[0.384,17.545],[0.387,17.525],
  [0.390,17.578],[0.393,17.550],[0.396,17.530],
  [0.399,17.582],[0.402,17.555],[0.405,17.535],[0.408,17.590],[0.411,17.560],[0.414,17.540],[0.417,17.598],[0.420,17.566],
  [0.423,17.545],[0.426,17.605],[0.429,17.572],[0.432,17.550],[0.435,17.612],[0.438,17.578],[0.441,17.555],[0.444,17.620],
  [0.447,17.585],[0.450,17.560],[0.453,17.628],[0.456,17.590],[0.459,17.566],[0.462,17.634],[0.465,17.596],[0.468,17.570],
  [0.471,17.640],[0.474,17.600],[0.477,17.574],[0.480,17.646],[0.483,17.604],[0.486,17.578],[0.489,17.652],[0.492,17.606],
  [0.495,17.580],[0.498,17.660],[0.501,17.608],[0.504,17.582],[0.507,17.655],[0.510,17.606],[0.513,17.580],[0.516,17.650],
  [0.519,17.602],[0.522,17.576],[0.525,17.640],[0.528,17.598],[0.531,17.570],[0.534,17.632],[0.537,17.592],[0.540,17.565],
  [0.543,17.625],[0.546,17.585],[0.549,17.558],[0.552,17.615],[0.555,17.578],[0.558,17.552],[0.561,17.605],[0.564,17.570],
  [0.567,17.545],[0.570,17.596],[0.573,17.562],[0.576,17.538],[0.579,17.588],[0.582,17.555],[0.585,17.532],[0.588,17.580],
  [0.591,17.548],[0.594,17.526],[0.597,17.572],[0.600,17.542],[0.603,17.520],[0.606,17.565],[0.609,17.536],[0.612,17.515],
  [0.615,17.560],[0.618,17.530],
  [0.621,17.510],[0.624,17.556],[0.627,17.526],[0.630,17.505],[0.633,17.552],[0.636,17.522],[0.639,17.500],[0.642,17.548],
  [0.645,17.518],[0.648,17.498],[0.651,17.545],[0.654,17.515],[0.657,17.495],[0.660,17.542],[0.663,17.512],[0.666,17.494],
  [0.669,17.540],[0.672,17.510],[0.675,17.492],[0.678,17.538],[0.681,17.514],[0.684,17.496],[0.687,17.541],[0.690,17.506],
  [0.693,17.488],[0.696,17.532],[0.699,17.512],[0.702,17.494],[0.705,17.540],[0.708,17.502],[0.711,17.486],[0.714,17.530],
  [0.717,17.510],[0.720,17.492],[0.723,17.538],[0.726,17.504],[0.729,17.488],[0.732,17.532],[0.735,17.512],[0.738,17.496],
  [0.741,17.540],[0.744,17.506],[0.747,17.486],[0.750,17.531],[0.753,17.512],[0.756,17.494],[0.759,17.542],[0.762,17.516],
  [0.765,17.490],[0.768,17.536],[0.771,17.514],[0.774,17.498],[0.777,17.544],[0.780,17.518],[0.783,17.492],
];

// ---------- model curve segments [phase, I mag] ----------
const P1_RED_1 = [[-0.252,14.974],[-0.22,14.976],[-0.19,14.980],[-0.16,14.985],[-0.13,14.991],[-0.105,14.998],[-0.084,15.004]];
const P1_BLUE_1 = [[-0.084,15.004],[-0.072,15.012],[-0.062,15.025],[-0.054,15.042],[-0.047,15.060],[-0.042,15.075]];
const P1_MAG_1 = [[-0.042,15.075],[-0.037,15.095],[-0.032,15.117],[-0.027,15.139]];
const P1_GREEN_1 = [[-0.027,15.139],[-0.020,15.168],[-0.013,15.196],[-0.006,15.216],[0.000,15.224],[0.006,15.217],[0.013,15.198],[0.019,15.170],[0.025,15.139]];
const P1_MAG_2 = [[0.025,15.139],[0.030,15.118],[0.035,15.096],[0.040,15.075]];
const P1_BLUE_2 = [[0.040,15.075],[0.045,15.058],[0.052,15.038],[0.060,15.022],[0.070,15.008],[0.080,14.998]];
const P1_RED_2 = [[0.080,14.998],[0.10,14.990],[0.13,14.982],[0.17,14.976],[0.20,14.973],[0.235,14.972],[0.27,14.975],[0.31,14.982],[0.35,14.990],[0.396,14.998]];
const P1_BLUE_3 = [[0.396,14.998],[0.415,15.004],[0.436,15.009]];
const P1_MAG_3 = [[0.436,15.009],[0.449,15.013]];
const P1_GREEN_2 = [[0.449,15.013],[0.465,15.016],[0.481,15.017],[0.495,15.015],[0.502,15.013]];
const P1_MAG_4 = [[0.502,15.013],[0.521,15.008]];
const P1_BLUE_4 = [[0.521,15.008],[0.540,15.003],[0.559,14.998]];
const P1_RED_3 = [[0.559,14.998],[0.60,14.990],[0.65,14.982],[0.70,14.975],[0.722,14.973],[0.747,14.974]];

const P2_RED_1 = [[-0.252,15.75],[-0.15,15.75],[-0.09,15.75],[-0.075,15.751],[-0.062,15.755]];
const P2_BLUE_1 = [[-0.062,15.755],[-0.055,15.768],[-0.048,15.788],[-0.040,15.815],[-0.032,15.845]];
const P2_MAG_1 = [[-0.032,15.845],[-0.027,15.885],[-0.022,15.925]];
const P2_GREEN_1 = [[-0.022,15.925],[-0.016,15.966],[-0.010,16.000],[-0.005,16.021],[-0.001,16.029],[0.004,16.021],[0.009,15.998],[0.014,15.962],[0.018,15.925]];
const P2_MAG_2 = [[0.018,15.925],[0.024,15.885],[0.030,15.845]];
const P2_BLUE_2 = [[0.030,15.845],[0.038,15.812],[0.046,15.784],[0.053,15.766],[0.060,15.755]];
const P2_RED_2 = [[0.060,15.755],[0.070,15.751],[0.09,15.75],[0.3,15.75],[0.461,15.75]];
const P2_BLUE_3 = [[0.461,15.75],[0.468,15.755],[0.475,15.762]];
const P2_MAG_3 = [[0.475,15.762],[0.482,15.770]];
const P2_GREEN_2 = [[0.482,15.770],[0.489,15.777],[0.496,15.779],[0.503,15.776],[0.510,15.770]];
const P2_MAG_4 = [[0.510,15.770],[0.517,15.762]];
const P2_BLUE_4 = [[0.517,15.762],[0.523,15.755],[0.528,15.751]];
const P2_RED_3 = [[0.528,15.751],[0.55,15.75],[0.748,15.75]];

const P3_RED_1 = [[-0.253,15.0364],[-0.22,15.0370],[-0.19,15.0385],[-0.16,15.0413],[-0.130,15.0455]];
const P3_BLUE_1 = [[-0.130,15.0455],[-0.11,15.0500],[-0.09,15.0565],[-0.072,15.0640]];
const P3_MAG_1 = [[-0.072,15.0640],[-0.060,15.0705],[-0.048,15.0770]];
const P3_GREEN_1 = [[-0.048,15.0770],[-0.035,15.0850],[-0.020,15.0925],[-0.010,15.0960],[-0.002,15.0974],[0.010,15.0960],[0.020,15.0925],[0.030,15.0865],[0.042,15.0790]];
const P3_MAG_2 = [[0.042,15.0790],[0.054,15.0715],[0.065,15.0650]];
const P3_BLUE_2 = [[0.065,15.0650],[0.080,15.0575],[0.095,15.0520],[0.110,15.0485],[0.123,15.0462]];
const P3_RED_2 = [[0.123,15.0462],[0.135,15.0442],[0.149,15.0430]];
const P3_BLUE_3 = [[0.149,15.0430],[0.162,15.0424],[0.174,15.0423],[0.190,15.0432],[0.205,15.0448],[0.219,15.0470]];
const P3_MAG_3 = [[0.219,15.0470],[0.238,15.0530],[0.257,15.0600]];
const P3_GREEN_2 = [[0.257,15.0600],[0.280,15.0690],[0.305,15.0760],[0.325,15.0780],[0.345,15.0760],[0.369,15.0690]];
const P3_MAG_4 = [[0.369,15.0690],[0.381,15.0650],[0.393,15.0615]];
const P3_BLUE_4 = [[0.393,15.0615],[0.410,15.0585],[0.430,15.0565],[0.448,15.0556],[0.475,15.0551]];
const P3_RED_3 = [[0.475,15.0551],[0.50,15.0548],[0.53,15.0535],[0.565,15.0512],[0.598,15.0480],[0.63,15.0445],[0.667,15.0407],[0.70,15.0380],[0.73,15.0366],[0.746,15.0364]];

const P4_RED_1 = [[-0.251,17.539],[-0.235,17.540],[-0.222,17.543]];
const P4_BLUE_1 = [[-0.222,17.543],[-0.200,17.547],[-0.180,17.556],[-0.158,17.570],[-0.137,17.594],[-0.117,17.624]];
const P4_MAG_1 = [[-0.117,17.624],[-0.097,17.662],[-0.077,17.700]];
const P4_GREEN_1 = [[-0.077,17.700],[-0.060,17.733],[-0.045,17.758],[-0.030,17.777],[-0.015,17.789],[0.000,17.794],[0.015,17.789],[0.030,17.777],[0.045,17.758],[0.060,17.733],[0.076,17.700]];
const P4_MAG_2 = [[0.076,17.700],[0.096,17.662],[0.116,17.624]];
const P4_BLUE_2 = [[0.116,17.624],[0.136,17.595],[0.157,17.571],[0.180,17.555],[0.200,17.547],[0.222,17.543]];
const P4_RED_2 = [[0.222,17.543],[0.26,17.538],[0.30,17.5365],[0.355,17.5365]];
const P4_BLUE_3 = [[0.355,17.5365],[0.39,17.544],[0.431,17.561]];
const P4_MAG_3 = [[0.431,17.561],[0.445,17.572],[0.458,17.585]];
const P4_GREEN_2 = [[0.458,17.585],[0.480,17.601],[0.500,17.609],[0.520,17.612],[0.540,17.606],[0.556,17.596],[0.571,17.585]];
const P4_MAG_4 = [[0.571,17.585],[0.586,17.572],[0.601,17.561]];
const P4_BLUE_4 = [[0.601,17.561],[0.635,17.545],[0.675,17.5365]];
const P4_RED_3 = [[0.675,17.5365],[0.71,17.536],[0.75,17.536]];

// ---------- styling ----------
const FONT = '"Liberation Sans", Arial, Helvetica, sans-serif';
const TITLE_RED = '#c8260a';
const NOTE_MAGENTA = '#ff3cff';
const C_RED = '#ff0000';
const C_BLUE = '#0000ff';
const C_MAG = '#ff00ff';
const C_GREEN = '#00c400';
const ERR_GRAY = '#bbbbbb';

const GRID_LEFT = 341;
const GRID_WIDTH = 1735;
const GRIDS = [
  { top: 21, height: 607 },
  { top: 641, height: 622 },
  { top: 1275, height: 618 },
  { top: 1907, height: 625 },
];
const BOTTOM_TICK_LEN = [20, 33, 30, 35];

const PANELS = [
  { range: Y1_RANGE, ticks: Y1_TICKS, dec: 2, obs: [P1_OBS, P1_OBS_B], err: P1_ERR,
    curves: [[P1_RED_1, C_RED], [P1_BLUE_1, C_BLUE], [P1_MAG_1, C_MAG], [P1_GREEN_1, C_GREEN], [P1_MAG_2, C_MAG], [P1_BLUE_2, C_BLUE], [P1_RED_2, C_RED], [P1_BLUE_3, C_BLUE], [P1_MAG_3, C_MAG], [P1_GREEN_2, C_GREEN], [P1_MAG_4, C_MAG], [P1_BLUE_4, C_BLUE], [P1_RED_3, C_RED]],
    redW: 4, colW: 5.5 },
  { range: Y2_RANGE, ticks: Y2_TICKS, dec: 1, obs: [P2_OBS, P2_OBS_B], err: P2_ERR,
    curves: [[P2_RED_1, C_RED], [P2_BLUE_1, C_BLUE], [P2_MAG_1, C_MAG], [P2_GREEN_1, C_GREEN], [P2_MAG_2, C_MAG], [P2_BLUE_2, C_BLUE], [P2_RED_2, C_RED], [P2_BLUE_3, C_BLUE], [P2_MAG_3, C_MAG], [P2_GREEN_2, C_GREEN], [P2_MAG_4, C_MAG], [P2_BLUE_4, C_BLUE], [P2_RED_3, C_RED]],
    redW: 4, colW: 5.5 },
  { range: Y3_RANGE, ticks: Y3_TICKS, dec: 2, obs: [P3_OBS], err: P3_ERR,
    curves: [[P3_RED_1, C_RED], [P3_BLUE_1, C_BLUE], [P3_MAG_1, C_MAG], [P3_GREEN_1, C_GREEN], [P3_MAG_2, C_MAG], [P3_BLUE_2, C_BLUE], [P3_RED_2, C_RED], [P3_BLUE_3, C_BLUE], [P3_MAG_3, C_MAG], [P3_GREEN_2, C_GREEN], [P3_MAG_4, C_MAG], [P3_BLUE_4, C_BLUE], [P3_RED_3, C_RED]],
    redW: 5, colW: 7 },
  { range: Y4_RANGE, ticks: Y4_TICKS, dec: 1, obs: [P4_OBS, P4_OBS_B], err: P4_ERR,
    curves: [[P4_RED_1, C_RED], [P4_BLUE_1, C_BLUE], [P4_MAG_1, C_MAG], [P4_GREEN_1, C_GREEN], [P4_MAG_2, C_MAG], [P4_BLUE_2, C_BLUE], [P4_RED_2, C_RED], [P4_BLUE_3, C_BLUE], [P4_MAG_3, C_MAG], [P4_GREEN_2, C_GREEN], [P4_MAG_4, C_MAG], [P4_BLUE_4, C_BLUE], [P4_RED_3, C_RED]],
    redW: 4.5, colW: 7 },
];

function buildOption() {
  const grid: any[] = [];
  const xAxis: any[] = [];
  const yAxis: any[] = [];
  const series: any[] = [];
  const axisLineStyle = { color: '#000', width: 6.5, cap: 'square' };
  const tickStyle = { color: '#000', width: 5.5, cap: 'round' };

  PANELS.forEach((p, i) => {
    grid.push({ left: GRID_LEFT, width: GRID_WIDTH, top: GRIDS[i].top, height: GRIDS[i].height, containLabel: false });
    const last = i === PANELS.length - 1;
    xAxis.push({
      type: 'value', gridIndex: i, position: 'bottom', min: X_RANGE[0], max: X_RANGE[1],
      axisLine: { show: last, onZero: false, lineStyle: axisLineStyle },
      axisTick: { show: true, inside: true, length: BOTTOM_TICK_LEN[i], lineStyle: tickStyle, customValues: X_TICKS },
      axisLabel: {
        show: last, customValues: X_TICKS, margin: 30, color: '#000', fontSize: 72, fontFamily: FONT,
        formatter: (v: number) => (v < -1e-9 ? '\u2212' + Math.abs(v).toFixed(1) : Math.abs(v).toFixed(1)),
      },
      splitLine: { show: false },
      name: last ? 'phase' : '', nameLocation: 'middle', nameGap: 115,
      nameTextStyle: { color: '#000', fontSize: 72, fontFamily: FONT },
    });
    xAxis.push({
      type: 'value', gridIndex: i, position: 'top', min: X_RANGE[0], max: X_RANGE[1],
      axisLine: { show: true, onZero: false, lineStyle: axisLineStyle },
      axisTick: { show: true, inside: true, length: 37, lineStyle: tickStyle, customValues: X_TICKS },
      axisLabel: { show: false },
      splitLine: { show: false },
    });
    yAxis.push({
      type: 'value', gridIndex: i, position: 'left', inverse: true, min: p.range[0], max: p.range[1],
      axisLine: { show: true, onZero: false, lineStyle: axisLineStyle },
      axisTick: { show: true, inside: true, length: 35, lineStyle: tickStyle, customValues: p.ticks },
      axisLabel: {
        show: true, customValues: p.ticks, margin: 26, color: '#000', fontSize: 72, fontFamily: FONT,
        formatter: (v: number) => v.toFixed(p.dec),
      },
      splitLine: { show: false },
    });
    yAxis.push({
      type: 'value', gridIndex: i, position: 'right', inverse: true, min: p.range[0], max: p.range[1],
      axisLine: { show: true, onZero: false, lineStyle: axisLineStyle },
      axisTick: { show: true, inside: true, length: 33, lineStyle: tickStyle, customValues: p.ticks },
      axisLabel: { show: false },
      splitLine: { show: false },
    });

    const err = p.err;
    p.obs.forEach((obs: any) => {
      series.push({
        type: 'custom', xAxisIndex: 2 * i, yAxisIndex: 2 * i, clip: true, z: 3,
        encode: { x: 0, y: 1 }, silent: true,
        data: obs,
        renderItem: (params: any, api: any) => {
          const x = api.value(0);
          const y = api.value(1);
          const c = api.coord([x, y]);
          const a = api.coord([x, y - err]);
          const b = api.coord([x, y + err]);
          const cap = 7;
          return {
            type: 'group',
            children: [
              { type: 'circle', shape: { cx: c[0], cy: c[1], r: 14 }, style: { fill: 'none', stroke: '#000', lineWidth: 3.5 } },
              { type: 'line', shape: { x1: c[0], y1: a[1], x2: c[0], y2: b[1] }, style: { stroke: ERR_GRAY, lineWidth: 4.5 } },
              { type: 'line', shape: { x1: c[0] - cap, y1: a[1], x2: c[0] + cap, y2: a[1] }, style: { stroke: ERR_GRAY, lineWidth: 4 } },
              { type: 'line', shape: { x1: c[0] - cap, y1: b[1], x2: c[0] + cap, y2: b[1] }, style: { stroke: ERR_GRAY, lineWidth: 4 } },
            ],
          };
        },
      });
    });

    p.curves.forEach(([pts, color]: any) => {
      series.push({
        type: 'line', xAxisIndex: 2 * i, yAxisIndex: 2 * i, data: pts, z: 6,
        showSymbol: false, symbol: 'none', smooth: 0.3, clip: true,
        lineStyle: { color, width: color === C_RED ? p.redW : p.colW, cap: 'round', join: 'round' },
        emphasis: { disabled: true }, silent: true,
      });
    });
  });

  const txt = (x: number, y: number, text: string, size: number, fill: string, align: string, italic = false) => ({
    type: 'text', x, y, z: 1,
    style: {
      text, fill, fontSize: size, fontWeight: 'bold', fontFamily: FONT, fontStyle: italic ? 'italic' : 'normal',
      align, textAlign: align, verticalAlign: 'middle', textVerticalAlign: 'middle',
    },
  });

  const yNameCenters = [330, 954, 1586, 2220];
  const graphic: any[] = [
    txt(1149, 375, TITLES[0], 126, TITLE_RED, 'left'),
    txt(1225, 945, TITLES[1], 126, TITLE_RED, 'left'),
    txt(478, 1349, TITLES[2], 126, TITLE_RED, 'left'),
    txt(945, 2317, TITLES[3], 126, TITLE_RED, 'left'),
    txt(2003, 1067, NOTE, 62, NOTE_MAGENTA, 'right', true),
    txt(2005, 548, INFO[0], 46, '#000', 'right'),
    txt(2005, 1172, INFO[1], 46, '#000', 'right'),
    txt(1997, 1803, INFO[2], 46, '#000', 'right'),
    txt(2009, 2435, INFO[3], 46, '#000', 'right'),
    ...yNameCenters.map((cy) => ({
      type: 'text', x: 54, y: cy, rotation: Math.PI / 2, z: 1,
      style: { text: 'I [mag]', fill: '#000', fontSize: 72, fontFamily: FONT, align: 'center', textAlign: 'center', verticalAlign: 'middle', textVerticalAlign: 'middle' },
    })),
    { type: 'rect', z: 100, shape: { x: 100, y: 1855, width: 236, height: 39 }, style: { fill: '#fff' } },
  ];

  return { animation: false, backgroundColor: '#fff', grid, xAxis, yAxis, series, graphic };
}

export default function App() {
  const ref = useRef<HTMLDivElement>(null);
  useEffect(() => {
    const chart = echarts.init(ref.current as HTMLDivElement, null, { renderer: 'svg' });
    chart.setOption(buildOption() as any);
    return () => chart.dispose();
  }, []);
  return (
    <div
      ref={ref}
      style={{ position: 'absolute', left: 0, top: 0, width: 2073, height: 2737, background: '#fff' }}
    />
  );
}
